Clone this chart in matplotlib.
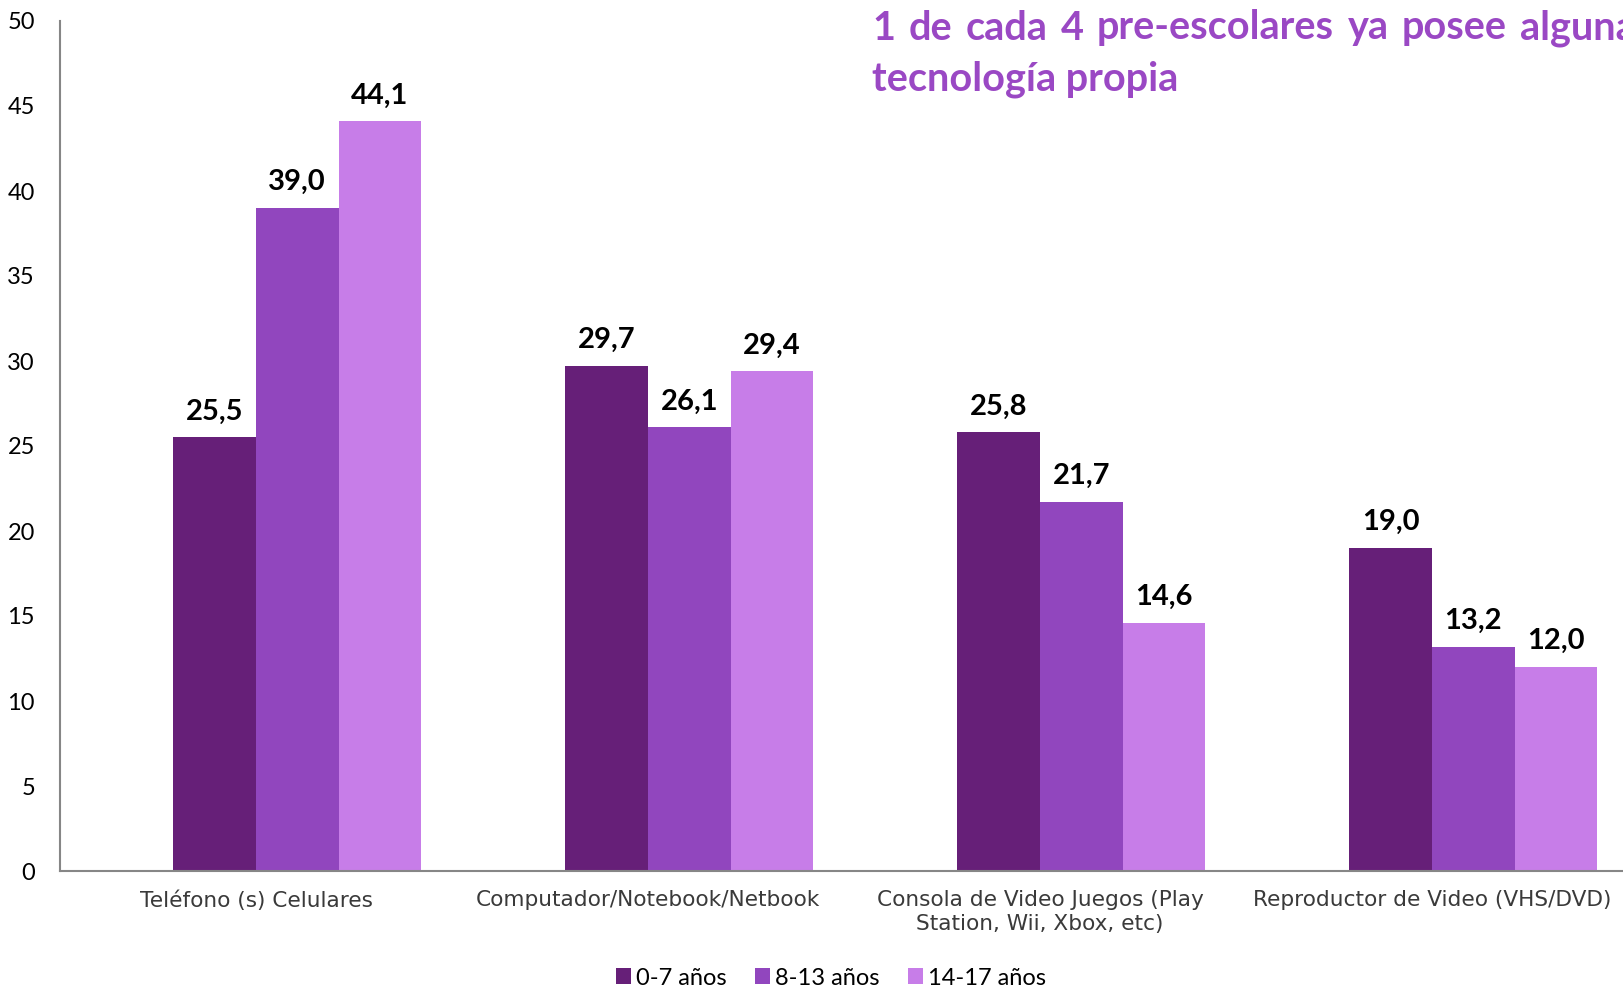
import matplotlib

matplotlib.use("Agg")
import matplotlib.pyplot as plt
import numpy as np

# ---------------------------------------------------------------------------
# Data
# ---------------------------------------------------------------------------
categories = [
    "Teléfono (s) Celulares",
    "Computador/Notebook/Netbook",
    "Consola de Video Juegos (Play\nStation, Wii, Xbox, etc)",
    "Reproductor de Video (VHS/DVD)",
]
series_names = ["0-7 años", "8-13 años", "14-17 años"]
vals_0_7 = [25.5, 29.7, 25.8, 19.0]
vals_8_13 = [39.0, 26.1, 21.7, 13.2]
vals_14_17 = [44.1, 29.4, 14.6, 12.0]
yticks = [0, 5, 10, 15, 20, 25, 30, 35, 40, 45, 50]
title_line1 = "1 de cada 4 pre-escolares ya posee alguna"
title_line2 = "tecnología propia"

COLORS = ["#661F78", "#9146BE", "#C77DE8"]
TITLE_COLOR = "#9A48C4"
AXIS_COLOR = "#868686"

W, H = 1623, 996
fig = plt.figure(figsize=(W / 100, H / 100), dpi=100)
# axis runs slightly past the right edge, like the original
ax = fig.add_axes([60 / W, 1 - 871 / H, 1568 / W, 850 / H])

x = np.arange(len(categories))
bw = 0.2105
# an empty first slot shifts the three bars right inside each category
offsets = [-0.5 * bw, 0.5 * bw, 1.5 * bw]
for vals, off, col, name in zip([vals_0_7, vals_8_13, vals_14_17], offsets, COLORS, series_names):
    bars = ax.bar(x + off, vals, width=bw, color=col, label=name, zorder=2)
    for b, v in zip(bars, vals):
        ax.text(b.get_x() + b.get_width() / 2, v + 0.75, f"{v:.1f}".replace(".", ","),
                ha="center", va="bottom", fontsize=21, fontweight="bold",
                family="Lato", color="black")

ax.set_xlim(-0.5, 3.5)
ax.set_ylim(0, 50)
ax.set_yticks(yticks)
ax.set_yticklabels([str(t) for t in yticks], fontsize=17, family="Lato")
ax.set_xticks(x)
ax.set_xticklabels(categories, fontsize=15.6, family="DejaVu Sans", color="#3A3A3A",
                   linespacing=1.2)
ax.tick_params(axis="both", length=0)
ax.tick_params(axis="y", pad=18)
ax.tick_params(axis="x", pad=14)
for lbl in ax.get_yticklabels():
    lbl.set_horizontalalignment("right")

for s in ["top", "right"]:
    ax.spines[s].set_visible(False)
for s in ["left", "bottom"]:
    ax.spines[s].set_color(AXIS_COLOR)
    ax.spines[s].set_linewidth(1.5)

# --- Title: justified first line, running off the right edge ---------------
title_kw = dict(fontsize=28.5, fontweight="bold", family="Lato", color=TITLE_COLOR,
                va="center", ha="left")
x0, x1 = 872, 1636
words = title_line1.split(" ")
txts = [fig.text(0, 1 - 28 / H, w, **title_kw) for w in words]
fig.canvas.draw()
r = fig.canvas.get_renderer()
widths = [t.get_window_extent(r).width for t in txts]
gap = (x1 - x0 - sum(widths)) / (len(words) - 1)
pos = x0
for t, wd in zip(txts, widths):
    t.set_x(pos / W)
    pos += wd + gap
fig.text(x0 / W, 1 - 79 / H, title_line2, **title_kw)

leg = fig.legend(loc="center", bbox_to_anchor=(831 / W, 1 - 978 / H), ncol=3,
                 frameon=False, prop={"family": "Lato", "size": 17},
                 handlelength=0.65, handleheight=0.65, handletextpad=0.2,
                 columnspacing=1.2)

fig.savefig("out.png", dpi=100)
